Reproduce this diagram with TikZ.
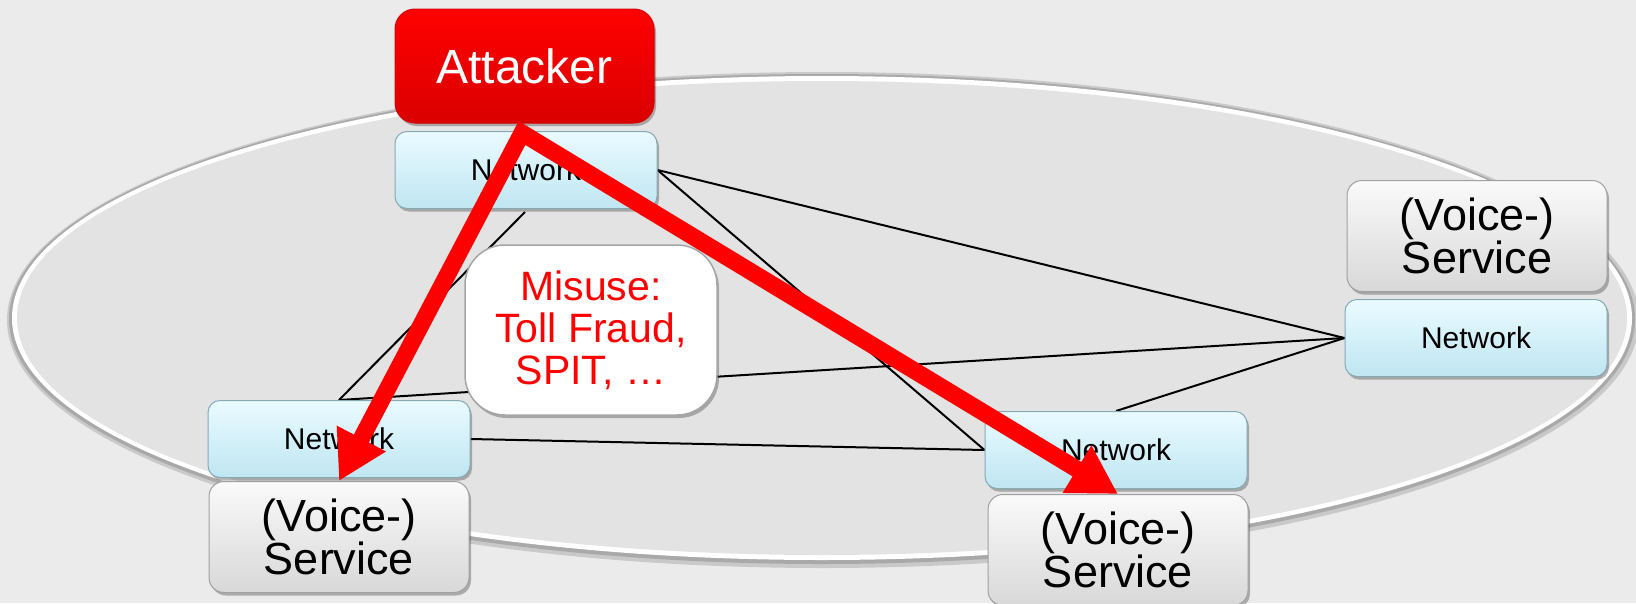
\documentclass[tikz,border=0pt]{standalone}
\usepackage{fontspec}
\setmainfont{Liberation Sans}
\usetikzlibrary{shadows,arrows.meta}

\definecolor{paper}{HTML}{EBEBEB}
\definecolor{plate}{HTML}{E3E3E3}
\definecolor{platerim}{HTML}{8A8A8A}
\definecolor{netlight}{HTML}{EAFBFF}
\definecolor{netdark}{HTML}{BFE6F2}
\definecolor{netedge}{HTML}{86A9B4}
\definecolor{svclight}{HTML}{FAFAFA}
\definecolor{svcdark}{HTML}{D8D8D8}
\definecolor{svcedge}{HTML}{A0A0A0}
\definecolor{alarm}{HTML}{FF0000}
\definecolor{alarmdark}{HTML}{D80000}

\pgfdeclarelayer{plate}
\pgfdeclarelayer{links}
\pgfsetlayers{plate,links,main}

\tikzset{
  softshadow/.style={drop shadow={shadow xshift=2pt, shadow yshift=-3pt, opacity=0.4, fill=black!70}},
  netbox/.style={draw=netedge, line width=1pt, rounded corners=12pt,
    top color=netlight, bottom color=netdark, softshadow,
    minimum width=262pt, minimum height=77pt, inner sep=0pt,
    font=\fontsize{30}{30}\selectfont},
  svcbox/.style={draw=svcedge, line width=1pt, rounded corners=15pt,
    top color=svclight, bottom color=svcdark, softshadow,
    minimum width=260pt, minimum height=111pt, inner sep=0pt, align=center,
    font=\fontsize{45}{40}\selectfont},
  attackbox/.style={draw=alarmdark, line width=1pt, rounded corners=20pt,
    top color=alarm, bottom color=alarmdark!95!alarm, softshadow,
    minimum width=259pt, minimum height=114pt, inner sep=0pt, text=white,
    font=\fontsize{48}{48}\selectfont},
  misusebox/.style={draw=black!35, line width=1.5pt, rounded corners=40pt,
    fill=white, softshadow,
    minimum width=252pt, minimum height=170pt, inner sep=0pt, align=center,
    text=alarm, font=\fontsize{41}{42}\selectfont},
  link/.style={draw=black, line width=2pt},
  attackpath/.style={draw=alarm, line width=17pt, line join=miter,
    {Triangle[length=48pt,width=52pt]}-{Triangle[length=48pt,width=52pt]}}
}

\begin{document}
\begin{tikzpicture}[x=1pt,y=-1pt]
\useasboundingbox (0,0) rectangle (1636,603);

% paper and network cloud: soft rim, white edge, grey plate
\begin{pgfonlayer}{plate}
\fill[paper] (0,0) rectangle (1636,603);
\fill[platerim, opacity=0.35] (823,320) ellipse [x radius=816, y radius=248];
\fill[platerim, opacity=0.5] (822,319) ellipse [x radius=813, y radius=245];
\fill[white] (822,318) ellipse [x radius=810, y radius=242];
\fill[plate] (822,318) ellipse [x radius=805, y radius=237];
\end{pgfonlayer}

% boxes
\node[attackbox] (attacker) at (524.5,66) {Attacker};
\node[netbox] (netTop) at (526,170) {Network};
\node[svcbox] (svcR) at (1477,236) {(Voice-)\\Service};
\node[netbox] (netR) at (1476,338) {Network};
\node[netbox] (netBL) at (339,439) {Network};
\node[svcbox] (svcBL) at (339,537) {(Voice-)\\Service};
\node[netbox] (netBR) at (1116,450) {Network};
\node[svcbox] (svcBR) at (1118,550) {(Voice-)\\Service};

% links between the networks, kept behind the boxes
\coordinate (topLow) at (525,212);
\begin{pgfonlayer}{links}
\path[link] (netTop.east) -- (netR.west);
\path[link] (netTop.east) -- (netBR.west);
\path[link] (topLow) -- (netBL.north);
\path[link] (netBL.north) -- (netR.west);
\path[link] (netBL.east) -- (netBR.west);
\path[link] (netBR.north) -- (netR.west);
\end{pgfonlayer}

% misuse note
\node[misusebox] (misuse) at (591,330) {Misuse:\\Toll Fraud,\\SPIT, \dots};

% attack paths
\coordinate (apex) at (522,133);
\path[attackpath] (svcBL.north) -- (apex) -- (svcBR.north);
\end{tikzpicture}
\end{document}
